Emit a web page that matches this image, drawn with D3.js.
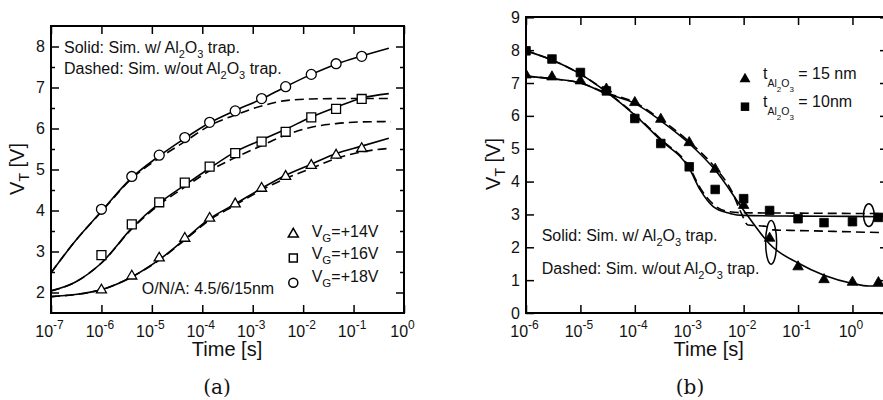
<!DOCTYPE html>
<html><head><meta charset="utf-8">
<script src="https://cdn.jsdelivr.net/npm/d3@7"></script>
<style>
body{margin:0;background:#fff}
svg{display:block}
text{font-family:"Liberation Sans",Arial,Helvetica,sans-serif;fill:#111}
</style>
</head><body>
<svg id="c" width="883" height="400"></svg>
<script>
// ---------------- Panel (a) data ----------------
const aXTicks = [1e-7, 1e-6, 1e-5, 1e-4, 1e-3, 1e-2, 1e-1, 1];
const aXTickExp = ["-7", "-6", "-5", "-4", "-3", "-2", "-1", "0"];
const aYTicks = [2, 3, 4, 5, 6, 7, 8];
const aYMinor = [2.5, 3.5, 4.5, 5.5, 6.5, 7.5];
const aMarkTime = [1e-6, 4e-6, 1.4e-5, 4.5e-5, 1.4e-4, 4.5e-4, 1.5e-3, 4.5e-3, 1.45e-2, 4.5e-2, 1.45e-1];
const aVg14 = [2.08, 2.42, 2.86, 3.34, 3.83, 4.18, 4.56, 4.85, 5.12, 5.37, 5.53];
const aVg16 = [2.91, 3.66, 4.20, 4.68, 5.07, 5.40, 5.68, 5.92, 6.27, 6.48, 6.72];
const aVg18 = [4.03, 4.83, 5.35, 5.78, 6.15, 6.43, 6.73, 7.02, 7.32, 7.58, 7.76];
const aSimTime = [1e-7, 3e-7, 1e-6, 4e-6, 1.4e-5, 4.5e-5, 1.4e-4, 4.5e-4, 1.5e-3, 4.5e-3, 1.45e-2, 4.5e-2, 1.45e-1, 5e-1];
const aSolid18 = [2.48, 3.25, 3.98, 4.80, 5.33, 5.76, 6.14, 6.44, 6.72, 7.02, 7.32, 7.57, 7.77, 7.96];
const aDash18  = [2.48, 3.25, 3.97, 4.78, 5.28, 5.68, 6.07, 6.33, 6.55, 6.68, 6.72, 6.73, 6.73, 6.73];
const aSolid16 = [2.04, 2.25, 2.72, 3.57, 4.18, 4.62, 5.03, 5.43, 5.72, 5.98, 6.28, 6.52, 6.74, 6.85];
const aDash16  = [2.04, 2.25, 2.72, 3.55, 4.14, 4.57, 4.97, 5.29, 5.58, 5.84, 6.03, 6.12, 6.16, 6.17];
const aSolid14 = [1.90, 1.95, 2.07, 2.38, 2.80, 3.30, 3.80, 4.16, 4.54, 4.86, 5.13, 5.39, 5.57, 5.76];
const aDash14  = [1.90, 1.95, 2.07, 2.38, 2.79, 3.28, 3.77, 4.13, 4.50, 4.78, 5.03, 5.27, 5.43, 5.52];
const aLegend = ["+14V", "+16V", "+18V"];

// ---------------- Panel (b) data ----------------
const bXTicks = [1e-6, 1e-5, 1e-4, 1e-3, 1e-2, 1e-1, 1];
const bXTickExp = ["-6", "-5", "-4", "-3", "-2", "-1", "0"];
const bYTicks = [0, 1, 2, 3, 4, 5, 6, 7, 8, 9];
const bMarkTime = [1e-6, 3e-6, 1e-5, 3e-5, 1e-4, 3e-4, 1e-3, 3e-3, 1e-2, 3e-2, 1e-1, 3e-1, 1, 3];
const b15nm = [7.27, 7.21, 7.09, 6.84, 6.43, 5.92, 5.21, 4.40, 3.30, 2.30, 1.43, 1.04, 0.96, 0.95];
const b10nm = [7.98, 7.73, 7.32, 6.76, 5.92, 5.16, 4.45, 3.76, 3.48, 3.12, 2.87, 2.75, 2.78, 2.91];
const b15SolidT = [1e-6, 3e-6, 1e-5, 3e-5, 1e-4, 3e-4, 1e-3, 3e-3, 1e-2, 2e-2, 3e-2, 1e-1, 3e-1, 1, 2, 4.5];
const b15SolidV = [7.21, 7.13, 7.00, 6.68, 6.38, 5.85, 5.16, 4.35, 3.13, 2.45, 2.10, 1.52, 1.15, 0.90, 0.82, 0.82];
const b15DashT = [1e-6, 3e-6, 1e-5, 3e-5, 1e-4, 3e-4, 1e-3, 3e-3, 6e-3, 9e-3, 1.2e-2, 2.5e-2, 3.5e-2, 1e-1, 1, 4.5];
const b15DashV = [7.21, 7.13, 7.00, 6.70, 6.41, 5.89, 5.21, 4.42, 3.72, 3.05, 2.68, 2.64, 2.53, 2.51, 2.47, 2.44];
const b10SolidT = [1e-6, 3e-6, 1e-5, 3e-5, 1e-4, 3e-4, 1e-3, 1.6e-3, 2.8e-3, 5.6e-3, 1e-2, 1e-1, 1, 4.5];
const b10SolidV = [7.98, 7.70, 7.27, 6.73, 6.02, 5.26, 4.40, 3.74, 3.23, 3.03, 2.97, 2.95, 2.94, 2.93];
const b10DashT = [1e-6, 3e-6, 1e-5, 3e-5, 1e-4, 3e-4, 1e-3, 1.6e-3, 2.8e-3, 5.6e-3, 1e-2, 1e-1, 1, 4.5];
const b10DashV = [7.98, 7.70, 7.27, 6.74, 6.04, 5.29, 4.44, 3.80, 3.30, 3.08, 3.05, 3.04, 3.03, 3.03];
const bEllipseT = [2.0, 3.2e-2];
const bEllipseV = [2.98, 2.15];
const bLegend = ["15 nm", "10nm"];

// ---------------- drawing ----------------
const svg = d3.select("#c");
const FONT = "Liberation Sans, Arial, Helvetica, sans-serif";

function rich(textSel, parts) {
  parts.forEach(p => {
    const t = textSel.append("tspan").text(p[0]);
    if (p[1]) t.attr("font-size", p[1]);
    if (p[2]) t.attr("dy", p[2]);
  });
  return textSel;
}
function styleAxis(g) {
  g.attr("font-family", FONT).attr("font-size", 16);
  g.select(".domain").remove();
  g.selectAll(".tick line").attr("stroke", "#000").attr("stroke-width", 1.5);
  g.selectAll(".tick text").attr("fill", "#111");
}
function xLabels(g, exps, ticks) {
  g.selectAll(".tick").each(function(d) {
    const i = ticks.indexOf(d);
    const t = d3.select(this).append("text").attr("text-anchor", "middle")
      .attr("x", -2).attr("y", 23.7).attr("fill", "#111").attr("font-size", 16);
    rich(t, [["10"], [exps[i], 12, -7.5]]);
  });
}

function panel(cfg) {
  const {x, y, x0, x1, y0, y1, xt, xe, yt, ym, id} = cfg;
  const clip = svg.append("clipPath").attr("id", id).append("rect")
    .attr("x", x0).attr("y", y1).attr("width", x1 - x0).attr("height", y0 - y1);
  const gb = svg.append("g").attr("transform", `translate(0,${y0})`)
    .call(d3.axisBottom(x).tickValues(xt).tickSize(-8).tickSizeOuter(0).tickFormat(() => ""));
  styleAxis(gb); xLabels(gb, xe, xt);
  const gt = svg.append("g").attr("transform", `translate(0,${y1})`)
    .call(d3.axisTop(x).tickValues(xt).tickSize(-8).tickSizeOuter(0).tickFormat(() => ""));
  styleAxis(gt);
  const gl = svg.append("g").attr("transform", `translate(${x0},0)`)
    .call(d3.axisLeft(y).tickValues(yt).tickSize(-8).tickSizeOuter(0).tickPadding(6).tickFormat(d3.format("d")));
  styleAxis(gl);
  const gr = svg.append("g").attr("transform", `translate(${x1},0)`)
    .call(d3.axisRight(y).tickValues(yt).tickSize(-8).tickSizeOuter(0).tickFormat(() => ""));
  styleAxis(gr);
  if (ym) {
    const gl2 = svg.append("g").attr("transform", `translate(${x0},0)`)
      .call(d3.axisLeft(y).tickValues(ym).tickSize(-4).tickSizeOuter(0).tickFormat(() => ""));
    styleAxis(gl2);
    const gr2 = svg.append("g").attr("transform", `translate(${x1},0)`)
      .call(d3.axisRight(y).tickValues(ym).tickSize(-4).tickSizeOuter(0).tickFormat(() => ""));
    styleAxis(gr2);
  }
  svg.append("rect").attr("x", x0).attr("y", y1).attr("width", x1 - x0).attr("height", y0 - y1)
    .attr("fill", "none").attr("stroke", "#000").attr("stroke-width", 2);
  return svg.append("g").attr("clip-path", `url(#${id})`);
}

function drawCurve(g, x, y, ts, vs, dashed) {
  const line = d3.line().x(d => x(d[0])).y(d => y(d[1])).curve(d3.curveMonotoneX);
  g.append("path").datum(ts.map((t, i) => [t, vs[i]])).attr("d", line)
    .attr("fill", "none").attr("stroke", "#000").attr("stroke-width", 1.6)
    .attr("stroke-dasharray", dashed ? "9,5" : null);
}
function drawMarks(g, x, y, ts, vs, type, size, filled) {
  g.selectAll(null).data(ts.map((t, i) => [t, vs[i]])).enter().append("path")
    .attr("transform", d => `translate(${x(d[0])},${y(d[1]) + (type === d3.symbolTriangle ? 0.8 : 0)})`)
    .attr("d", d3.symbol().type(type).size(size))
    .attr("fill", filled ? "#000" : "#fff").attr("stroke", "#000").attr("stroke-width", filled ? 0.8 : 1.3);
}

// ---- Panel (a)
const ax = d3.scaleLog().domain([1e-7, 1]).range([51, 404]);
const ay = d3.scaleLinear().domain([1.5, 8.5]).range([313, 26]);
const ga = panel({x: ax, y: ay, x0: 51, x1: 404, y0: 313, y1: 26, xt: aXTicks, xe: aXTickExp, yt: aYTicks, ym: aYMinor, id: "clipA"});
const aDashTime = aSimTime.map((t, i) => i === aSimTime.length - 1 ? 5.5e-1 : t);
drawCurve(ga, ax, ay, aDashTime, aDash18, true);
drawCurve(ga, ax, ay, aDashTime, aDash16, true);
drawCurve(ga, ax, ay, aDashTime, aDash14, true);
drawCurve(ga, ax, ay, aSimTime, aSolid18, false);
drawCurve(ga, ax, ay, aSimTime, aSolid16, false);
drawCurve(ga, ax, ay, aSimTime, aSolid14, false);
drawMarks(ga, ax, ay, aMarkTime, aVg18, d3.symbolCircle, 78, false);
drawMarks(ga, ax, ay, aMarkTime, aVg16, d3.symbolSquare, 80, false);
drawMarks(ga, ax, ay, aMarkTime, aVg14, d3.symbolTriangle, 44, false);

rich(svg.append("text").attr("x", 64).attr("y", 53.3).attr("font-size", 16),
  [["Solid: Sim. w/ Al"], ["2", 11, 5], ["O", 16, -5], ["3", 11, 5], [" trap.", 16, -5]]);
rich(svg.append("text").attr("x", 64).attr("y", 74).attr("font-size", 16),
  [["Dashed: Sim. w/out Al"], ["2", 11, 5], ["O", 16, -5], ["3", 11, 5], [" trap.", 16, -5]]);
svg.append("text").attr("x", 141.7).attr("y", 294.3).attr("font-size", 16).text("O/N/A: 4.5/6/15nm");

const aLegTypes = [d3.symbolTriangle, d3.symbolSquare, d3.symbolCircle];
const aLegSizes = [44, 64, 64];
aLegend.forEach((lab, i) => {
  svg.append("path").attr("transform", `translate(293.3,${233.3 + 24.7 * i + (i === 0 ? 0.8 : 0)})`)
    .attr("d", d3.symbol().type(aLegTypes[i]).size(aLegSizes[i]))
    .attr("fill", "#fff").attr("stroke", "#000").attr("stroke-width", 1.5);
  rich(svg.append("text").attr("x", 311.7).attr("y", 236.7 + 22.5 * i).attr("font-size", 16),
    [["V"], ["G", 11.5, 5], ["=" + lab, 16, -5]]);
});

rich(svg.append("text").attr("transform", "translate(24,169) rotate(-90)").attr("text-anchor", "middle").attr("font-size", 20),
  [["V"], ["T", 14, 5], [" [V]", 20, -5]]);
svg.append("text").attr("x", 227).attr("y", 356).attr("text-anchor", "middle").attr("font-size", 20).text("Time [s]");
svg.append("text").attr("x", 217).attr("y", 394).attr("text-anchor", "middle").attr("font-size", 20)
  .style("font-family", "DejaVu Serif, serif").text("(a)");

// ---- Panel (b)
const bx = d3.scaleLog().domain([1e-6, 4.5]).range([526, 888]);
const by = d3.scaleLinear().domain([0, 9]).range([313, 17.3]);
const gbp = panel({x: bx, y: by, x0: 526, x1: 888, y0: 313, y1: 17, xt: bXTicks, xe: bXTickExp, yt: bYTicks, ym: null, id: "clipB"});
drawCurve(gbp, bx, by, b15DashT, b15DashV, true);
drawCurve(gbp, bx, by, b10DashT, b10DashV, true);
drawCurve(gbp, bx, by, b15SolidT, b15SolidV, false);
drawCurve(gbp, bx, by, b10SolidT, b10SolidV, false);
drawMarks(gbp, bx, by, bMarkTime, b10nm, d3.symbolSquare, 74, true);
drawMarks(gbp, bx, by, bMarkTime, b15nm, d3.symbolTriangle, 48, true);
const bERx = [5.3, 5.5], bERy = [11.3, 21.8];
bEllipseT.forEach((t, i) => {
  gbp.append("ellipse").attr("cx", bx(t)).attr("cy", by(bEllipseV[i]))
    .attr("rx", bERx[i]).attr("ry", bERy[i]).attr("fill", "none").attr("stroke", "#000").attr("stroke-width", 1.5);
});

const bLegTypes = [d3.symbolTriangle, d3.symbolSquare];
const bLegSizes = [52, 72];
bLegend.forEach((lab, i) => {
  svg.append("path").attr("transform", `translate(745,${78.3 + 28.4 * i + (i === 0 ? 0.8 : 0)})`)
    .attr("d", d3.symbol().type(bLegTypes[i]).size(bLegSizes[i])).attr("fill", "#000");
  rich(svg.append("text").attr("x", 763).attr("y", 79.3 + 28 * i).attr("font-size", 16),
    [["t"], ["Al", 10.5, 8], ["2", 8, 4.5], ["O", 10.5, -4.5], ["3", 8, 4.5], [" = " + lab, 16, -12.5]]);
});

rich(svg.append("text").attr("x", 541.7).attr("y", 241).attr("font-size", 16),
  [["Solid: Sim. w/ Al"], ["2", 11, 5], ["O", 16, -5], ["3", 11, 5], [" trap.", 16, -5]]);
rich(svg.append("text").attr("x", 541.7).attr("y", 274).attr("font-size", 16),
  [["Dashed: Sim. w/out Al"], ["2", 11, 5], ["O", 16, -5], ["3", 11, 5], [" trap.", 16, -5]]);

rich(svg.append("text").attr("transform", "translate(500,164) rotate(-90)").attr("text-anchor", "middle").attr("font-size", 20),
  [["V"], ["T", 14, 5], [" [V]", 20, -5]]);
svg.append("text").attr("x", 708.7).attr("y", 356).attr("text-anchor", "middle").attr("font-size", 20).text("Time [s]");
svg.append("text").attr("x", 690).attr("y", 394).attr("text-anchor", "middle").attr("font-size", 20)
  .style("font-family", "DejaVu Serif, serif").text("(b)");
</script>
</body></html>
